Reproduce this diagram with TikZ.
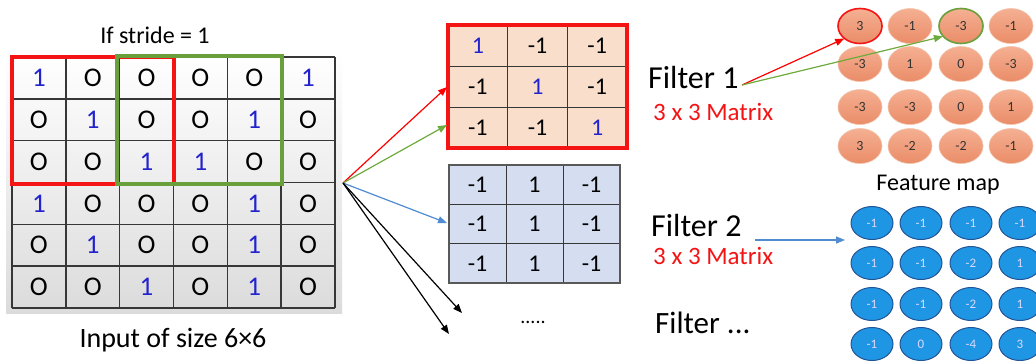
\documentclass[tikz,border=0pt]{standalone}
\usepackage{fontspec}
\setmainfont{Carlito}
\usetikzlibrary{arrows.meta,shapes.geometric}
\definecolor{numblue}{RGB}{35,35,205}
\definecolor{gridgray}{RGB}{55,55,55}
\definecolor{boxgreen}{RGB}{105,160,60}
\definecolor{arrgreen}{RGB}{110,170,60}
\definecolor{arrblue}{RGB}{80,140,210}
\definecolor{peach}{RGB}{250,222,204}
\definecolor{lightblue}{RGB}{212,222,240}
\definecolor{orangetop}{RGB}{245,176,146}
\definecolor{orangebot}{RGB}{234,140,104}
\definecolor{orangeedge}{RGB}{242,195,172}
\definecolor{ballblue}{RGB}{30,150,228}
\definecolor{balledge}{RGB}{35,85,150}
\definecolor{matred}{RGB}{245,20,20}
\tikzset{
  fs/.style={font=\fontsize{#1}{#1}\selectfont},
  cellnum/.style={inner sep=0pt, fs=27},
  fnum/.style={inner sep=0pt, fs=24},
  gline/.style={draw=gridgray, line width=1.4pt},
  arr/.style={-{Triangle[length=9pt,width=7pt]}, line width=1.2pt},
  oball/.style={ellipse, minimum width=44pt, minimum height=35pt, inner sep=0pt,
    top color=orangetop, bottom color=orangebot, draw=orangeedge, line width=0.6pt,
    text=black!80, fs=14},
  bball/.style={ellipse, minimum width=42pt, minimum height=33pt, inner sep=0pt,
    fill=ballblue, draw=balledge, line width=1pt, text=white!85!blue, fs=13},
}
\begin{document}
\begin{tikzpicture}[x=1pt,y=-1pt]
\clip (0,0) rectangle (1036,360);
\fill[white] (0,0) rectangle (1036,360);

% ---------- input 6x6 ----------
\shade[top color=white, middle color=white, bottom color=black!14] (6,52) rectangle (342,313);
\foreach \row [count=\i from 0] in {{1,0,0,0,0,1},{0,1,0,0,1,0},{0,0,1,1,0,0},{1,0,0,0,1,0},{0,1,0,0,1,0},{0,0,1,0,1,0}}{
  \foreach \v [count=\j from 0] in \row {
    \ifnum\v=1 \def\tc{numblue}\def\tx{1}\else\def\tc{black}\def\tx{O}\fi
    \node[cellnum, text=\tc] (in-\i-\j) at ({12+53.83*(\j+0.5)},{57+41.83*(\i+0.5)}) {\tx};
  }
}
\foreach \k in {0,...,6}{
  \draw[gline] ({12+53.83*\k},57) -- ({12+53.83*\k},308);
  \draw[gline] (12,{57+41.83*\k}) -- (335,{57+41.83*\k});
}
\draw[matred, line width=3.5pt] (12,57) rectangle (174,184);
\draw[boxgreen, line width=3.5pt] (117,56) rectangle (282,184);
\node[fs=24] (stride) at (155,35) {If stride = 1};
\node[fs=28] (inlabel) at (173,340) {Input of size 6×6};

% ---------- filter 1 ----------
\fill[peach] (448,25) rectangle (627,148);
\foreach \row [count=\i from 0] in {{1,-1,-1},{-1,1,-1},{-1,-1,1}}{
  \foreach \v [count=\j from 0] in \row {
    \ifnum\v=1 \def\tc{numblue}\else\def\tc{black}\fi
    \node[fnum, text=\tc] (fa-\i-\j) at ({448+59.67*(\j+0.5)},{25+41*(\i+0.5)}) {\v};
  }
}
\foreach \k in {1,2}{
  \draw[draw=gridgray, line width=1pt] ({448+59.67*\k},25) -- ({448+59.67*\k},148);
  \draw[draw=gridgray, line width=1pt] (448,{25+41*\k}) -- (627,{25+41*\k});
}
\draw[matred, line width=3.5pt] (448,25) rectangle (627,148);

% ---------- filter 2 ----------
\fill[lightblue] (449,165) rectangle (620,283);
\foreach \row [count=\i from 0] in {{-1,1,-1},{-1,1,-1},{-1,1,-1}}{
  \foreach \v [count=\j from 0] in \row {
    \node[fnum, text=black] (fb-\i-\j) at ({449+57*(\j+0.5)},{165+39.33*(\i+0.5)}) {\v};
  }
}
\foreach \k in {1,2}{
  \draw[draw=gridgray, line width=1pt] ({449+57*\k},165) -- ({449+57*\k},283);
  \draw[draw=gridgray, line width=1pt] (449,{165+39.33*\k}) -- (620,{165+39.33*\k});
}
\draw[draw=black!65, line width=1.2pt] (449,165) rectangle (620,283);

\node[fs=20] (dots) at (533,322) {.....};

% ---------- arrows from input ----------
\coordinate (src) at (343,183);
\coordinate (t1) at (447,87);
\coordinate (t2) at (447,125);
\coordinate (t3) at (447,223);
\coordinate (t4) at (462,313);
\coordinate (t5) at (449,334);
\draw[arr, red] (src) -- (t1);
\draw[arr, arrgreen] (src) -- (t2);
\draw[arr, arrblue] (src) -- (t3);
\draw[arr, black] (src) -- (t4);
\draw[arr, black] (src) -- (t5);

% ---------- filter labels ----------
\node[fs=32, anchor=west, inner sep=0pt] (f1) at (648,78) {Filter 1};
\node[fs=25, anchor=west, inner sep=0pt, text=matred] (m1) at (653,112) {3 x 3 Matrix};
\node[fs=32, anchor=west, inner sep=0pt] (f2) at (651,225) {Filter 2};
\node[fs=25, anchor=west, inner sep=0pt, text=matred] (m2) at (653,256) {3 x 3 Matrix};
\node[fs=31, anchor=west, inner sep=0pt] (f3) at (655,323) {Filter ...};

% ---------- feature map 1 ----------
\foreach \row [count=\i from 0] in {{3,-1,-3,-1},{-3,1,0,-3},{-3,-3,0,1},{3,-2,-2,-1}}{
  \foreach \v [count=\j from 0] in \row {
    \pgfmathsetmacro{\yy}{{26,64,107,146}[\i]}
    \pgfmathsetmacro{\xx}{{860,910,961,1011}[\j]}
    \node[oball] (oa-\i-\j) at (\xx,\yy) {\v};
  }
}
\draw[matred, line width=1.6pt] (oa-0-0.center) ellipse [x radius=22pt, y radius=17.5pt];
\draw[boxgreen, line width=1.6pt] (oa-0-2.center) ellipse [x radius=22pt, y radius=17.5pt];

\node[fs=24] (fmap) at (938,185) {Feature map};

% ---------- feature map 2 ----------
\foreach \row [count=\i from 0] in {{-1,-1,-1,-1},{-1,-1,-2,1},{-1,-1,-2,1},{-1,0,-4,3}}{
  \foreach \v [count=\j from 0] in \row {
    \pgfmathsetmacro{\yy}{{223,263,304,344}[\i]}
    \pgfmathsetmacro{\xx}{{872,921,971,1020}[\j]}
    \node[bball] (ob-\i-\j) at (\xx,\yy) {\v};
  }
}

% ---------- arrows to feature maps ----------
\coordinate (s1) at (742,85);
\draw[arr, red] (s1) -- (oa-0-0.south west);
\draw[arr, arrgreen] (s1) -- (oa-0-2.210);
\coordinate (s2) at (755,240);
\coordinate (e2) at (845,240);
\draw[arr, arrblue] (s2) -- (e2);
\end{tikzpicture}
\end{document}
